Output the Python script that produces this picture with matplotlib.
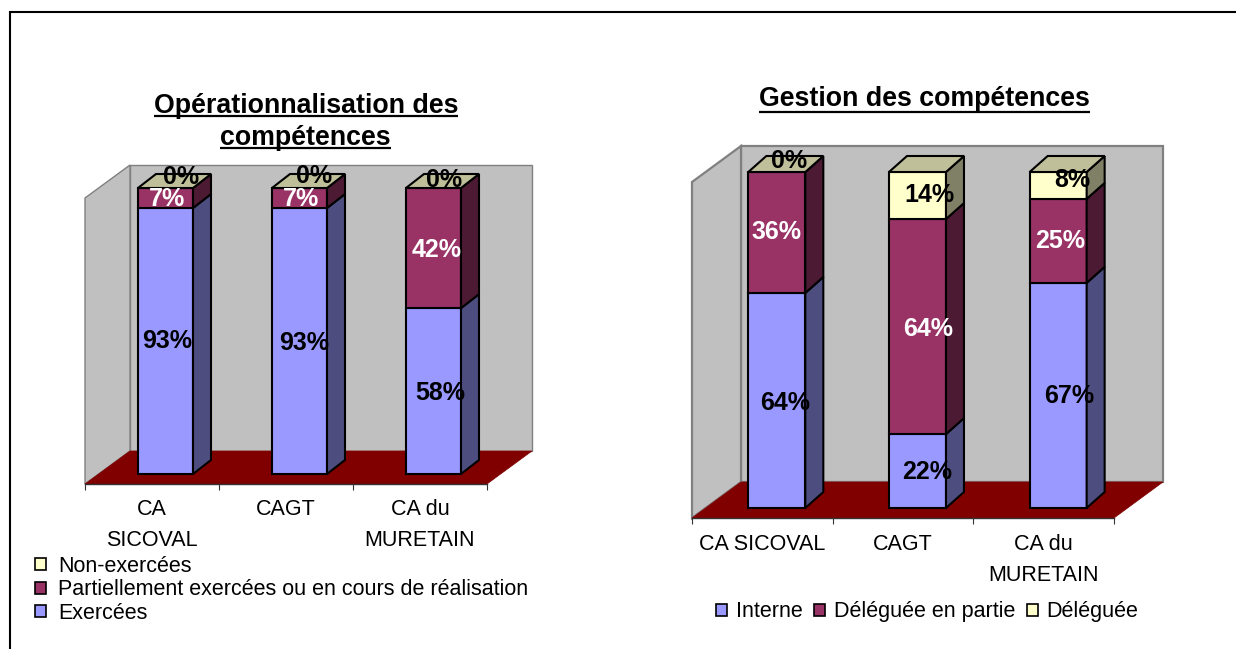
import matplotlib
matplotlib.use("Agg")
import matplotlib.pyplot as plt
from matplotlib.lines import Line2D
from matplotlib.patches import Patch

plt.rcParams['font.family'] = ['Liberation Sans', 'DejaVu Sans']

categories_left = ["CA\nSICOVAL", "CAGT", "CA du\nMURETAIN"]
series_left = ["Exercées", "Partiellement exercées ou en cours de réalisation", "Non-exercées"]
exercees = [93, 93, 58]
partielles = [7, 7, 42]
non_exercees = [0, 0, 0]

categories_right = ["CA SICOVAL", "CAGT", "CA du\nMURETAIN"]
series_right = ["Interne", "Déléguée en partie", "Déléguée"]
interne = [64, 22, 67]
deleguee_partie = [36, 64, 25]
deleguee = [0, 14, 8]

W, H = 1236, 649
FRONT = ['#9999FF', '#993366', '#FFFFCC']
SIDE = ['#4D4D80', '#4D1A33', '#808066']
TOP = '#BFBF99'
TEXTCOL = ['black', 'white', 'black']
FS = 15.5

fig = plt.figure(figsize=(W / 100, H / 100), dpi=100, facecolor='white')


def px_axes(x0, x1, ytop, ybot):
    return fig.add_axes([x0 / W, 1 - ybot / H, (x1 - x0) / W, (ybot - ytop) / H])


def draw_chart(ax, cats, layers, ppx, hpx, wall, bar_off, bar_w, depth, nudges, tick_pad, wall_lw):
    sx, sy = 1 / ppx, 1 / hpx
    wx, wy = wall[0] * sx, wall[1] * sy
    ax.set_xlim(0, len(cats))
    ax.set_ylim(0, 100)
    ax.patch.set_visible(False)
    for s in ['top', 'left', 'right']:
        ax.spines[s].set_visible(False)
    ax.spines['bottom'].set_color('#333333')
    ax.spines['bottom'].set_linewidth(1)
    ax.set_yticks([])
    ax.set_xticks(range(len(cats) + 1))
    ax.set_xticklabels([])
    ax.tick_params(axis='x', which='major', length=4.5, width=0.8, color='#333333')
    ax.set_xticks([i + 0.5 for i in range(len(cats))], minor=True)
    ax.set_xticklabels(cats, minor=True, fontsize=FS, linespacing=1.6, color='black')
    ax.tick_params(axis='x', which='minor', length=0, pad=tick_pad)

    n = len(cats)
    wxv, wyv = wx, wy * 100
    wk = dict(edgecolor='#808080', linewidth=wall_lw, clip_on=False, joinstyle='miter')
    ax.fill([wxv, n + wxv, n + wxv, wxv], [wyv, wyv, 100 + wyv, 100 + wyv], facecolor='#C0C0C0', zorder=1, **wk)
    ax.fill([0, wxv, wxv, 0], [0, wyv, 100 + wyv, 100], facecolor='#C0C0C0', zorder=1, **wk)
    ax.fill([0, n, n + wxv, wxv], [0, 0, wyv, wyv], facecolor='#800000', edgecolor='#800000',
            linewidth=0.5, clip_on=False, zorder=2)

    bw = bar_w * sx
    ox, oy = bar_off[0] * sx, bar_off[1] * sy * 100
    dx, dy = depth[0] * sx, depth[1] * sy * 100
    ek = dict(edgecolor='black', linewidth=1.5, clip_on=False, joinstyle='miter')
    for i in range(n):
        xl = i + 0.5 - bw / 2 + ox
        xr = xl + bw
        base = oy
        for k, layer in enumerate(layers):
            v = layer[i]
            top = base + v
            if v > 0:
                ax.fill([xl, xr, xr, xl], [base, base, top, top], facecolor=FRONT[k], zorder=3, **ek)
                ax.fill([xr, xr + dx, xr + dx, xr], [base, base + dy, top + dy, top], facecolor=SIDE[k], zorder=3, **ek)
            base = top
        ax.fill([xl, xr, xr + dx, xl + dx], [base, base, base + dy, base + dy], facecolor=TOP, zorder=3, **ek)
        base = oy
        for k, layer in enumerate(layers):
            v = layer[i]
            nx, ny = nudges[k][i]
            ax.annotate(f"{v}%", xy=((xl + xr) / 2, base + v / 2), xytext=(nx * 0.72, -ny * 0.72),
                        textcoords='offset points', ha='center', va='center', fontsize=18,
                        fontweight='bold', color=TEXTCOL[k], zorder=5, annotation_clip=False)
            base += v


# left chart
axL = px_axes(85, 487, 198, 484)
draw_chart(axL, categories_left, [exercees, partielles, non_exercees], 134, 286, (45, 33), (13.5, 10), 55,
           (18, 14), [[(2, 0), (5, 2), (7, 2)], [(1, 1), (1, 1), (3, 2)], [(16, -11), (15, -12), (11, -8)]],
           11, 1.0)
# right chart
axR = px_axes(692, 1114, 182, 518)
draw_chart(axR, categories_right, [interne, deleguee_partie, deleguee], 140.7, 336, (49, 36), (14.5, 10), 57,
           (18, 16), [[(8, 3), (10, 1), (11, 1)], [(0, 0), (11, 2), (2, 0)], [(12, -11), (12, -1), (14, -5)]],
           11.5, 1.6)

# legends
hL = [Patch(facecolor=FRONT[k], edgecolor='black', linewidth=1.2, label=series_left[k]) for k in (2, 1, 0)]
fig.legend(handles=hL, loc='upper left', bbox_to_anchor=(31 / W, 1 - 551.5 / H), frameon=False, ncol=1,
           fontsize=FS, handlelength=0.5, handleheight=0.5, handletextpad=0.56, labelspacing=0.12,
           borderpad=0.2, borderaxespad=0)
hR = [Patch(facecolor=FRONT[k], edgecolor='black', linewidth=1.2, label=series_right[k]) for k in range(3)]
fig.legend(handles=hR, loc='upper left', bbox_to_anchor=(712 / W, 1 - 597 / H), frameon=False, ncol=3,
           fontsize=FS, handlelength=0.5, handleheight=0.5, handletextpad=0.4, columnspacing=0.55,
           borderpad=0.2, borderaxespad=0)

# titles
TITLES = [("Opérationnalisation des", 306, 106, 115.5), ("compétences", 305.5, 138, 148),
          ("Gestion des compétences", 924.5, 99, 112)]
fig.canvas.draw()
rend = fig.canvas.get_renderer()
for txt, cx, cy, uy in TITLES:
    t = fig.text(cx / W, 1 - cy / H, txt, ha='center', va='center', fontsize=19.3, fontweight='bold', color='black')
    bb = t.get_window_extent(rend)
    fig.add_artist(Line2D([bb.x0 / W, bb.x1 / W], [1 - uy / H] * 2, color='black', lw=1.6, solid_capstyle='butt'))

# outer frame: left and top edges only, the top one running off the right of the page
fig.add_artist(Line2D([9.5 / W, 9.5 / W, 1], [0, 1 - 11.5 / H, 1 - 11.5 / H],
                      color='black', lw=1.5, solid_joinstyle='miter'))

fig.savefig('out.png', dpi=100, facecolor='white')
